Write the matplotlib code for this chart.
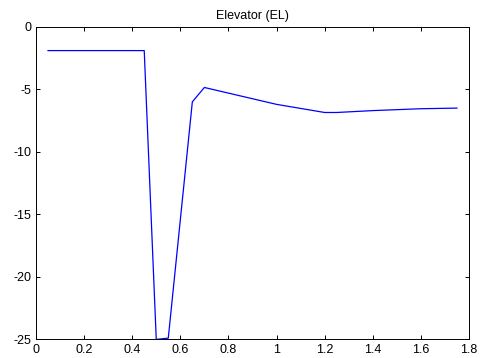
import matplotlib
matplotlib.use("Agg")
import matplotlib.pyplot as plt

x = [0.05, 0.45, 0.5, 0.55, 0.65, 0.7, 1.0, 1.2, 1.25, 1.4, 1.6, 1.75]
y = [-1.9, -1.9, -25.0, -24.9, -6.0, -4.85, -6.2, -6.85, -6.85, -6.7, -6.55, -6.5]
xticks = [0, 0.2, 0.4, 0.6, 0.8, 1, 1.2, 1.4, 1.6, 1.8]
xticklabels = ["0", "0.2", "0.4", "0.6", "0.8", "1", "1.2", "1.4", "1.6", "1.8"]
yticks = [-25, -20, -15, -10, -5, 0]
yticklabels = ["-25", "-20", "-15", "-10", "-5", "0"]

plt.rcParams['font.family'] = ['Liberation Sans', 'DejaVu Sans']
fig = plt.figure(figsize=(4.81, 3.58), dpi=100)
ax = fig.add_axes([0.0748, 0.052, 0.9002, 0.873])
ax.plot(x, y, color=(0, 0, 1), linewidth=0.9)
ax.set_xlim(0, 1.8)
ax.set_ylim(-25, 0)
ax.set_xticks(xticks)
ax.set_xticklabels(xticklabels)
ax.set_yticks(yticks)
ax.set_yticklabels(yticklabels)
ax.tick_params(direction='in', top=True, right=True, labelsize=9, length=3, width=0.7, pad=3.5)
for s in ax.spines.values():
    s.set_linewidth(0.7)
ax.set_title("Elevator (EL)", fontsize=9, pad=6)
fig.savefig("out.png", dpi=100)
